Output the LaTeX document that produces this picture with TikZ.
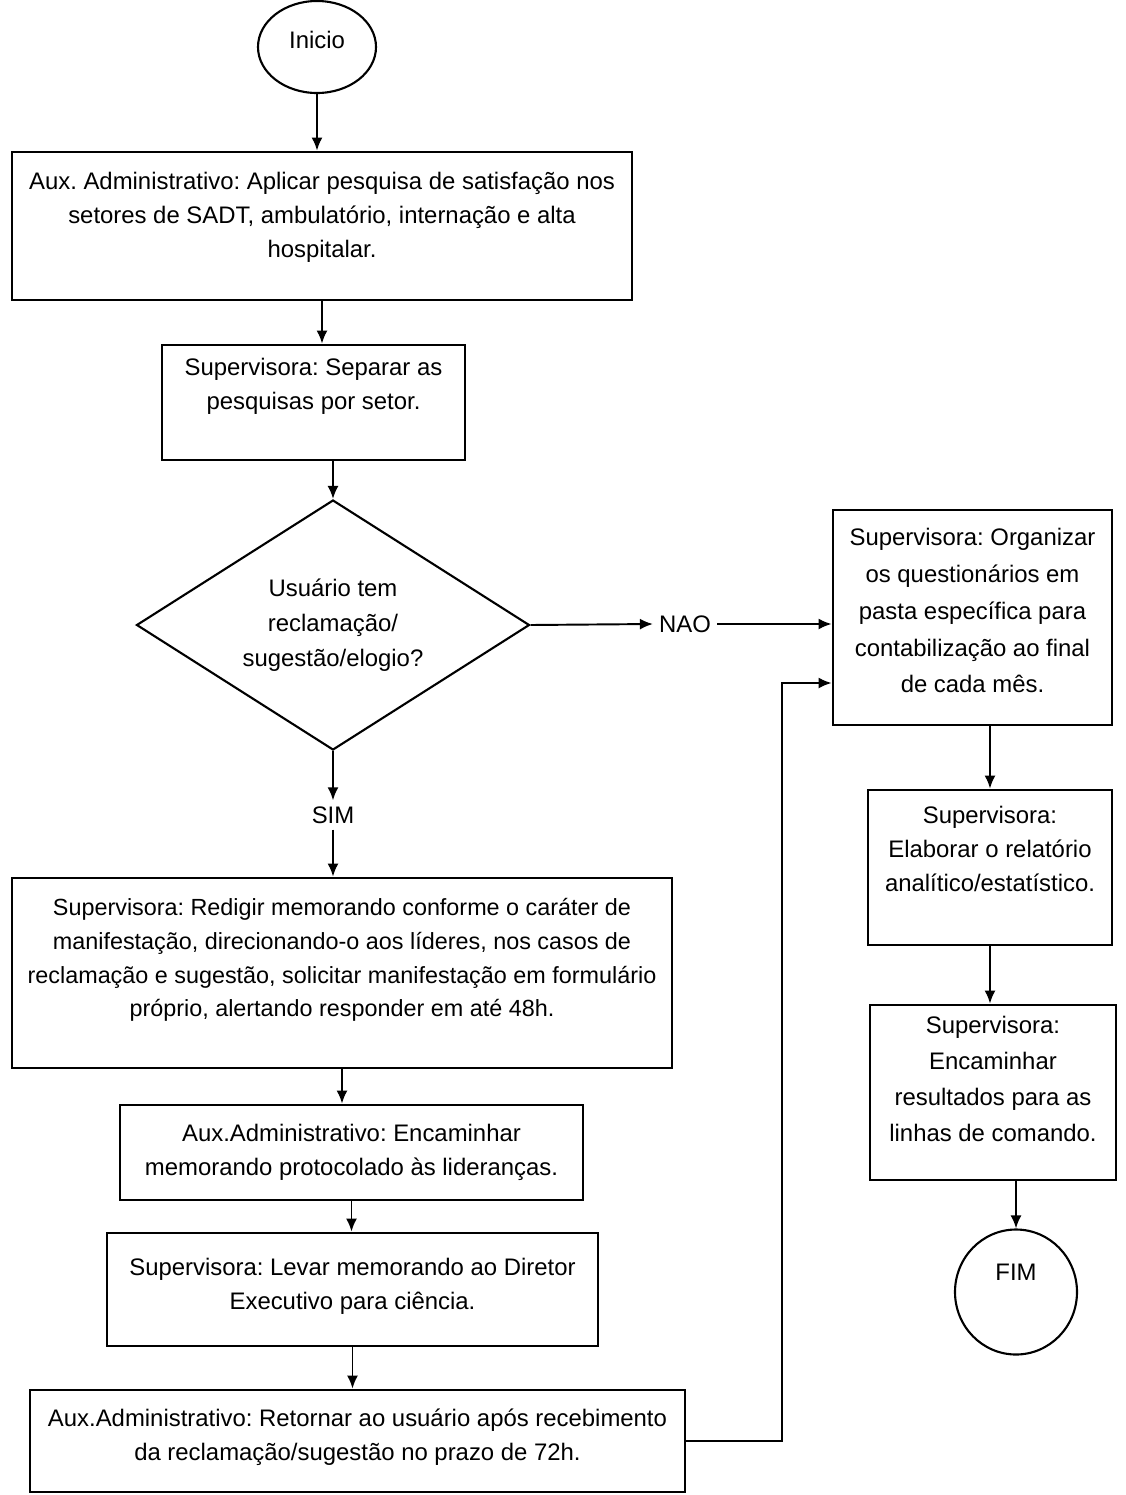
\documentclass[tikz,border=0pt]{standalone}
\usepackage{fontspec}
\setmainfont{Liberation Sans}
\usetikzlibrary{shapes.geometric}
\usetikzlibrary{arrows.meta}
\usetikzlibrary{positioning}
\frenchspacing

% box text: [top gap]{width}{height}{text}
\newcommand{\caixa}[4][0.35cm]{\parbox[c][#3][t]{#2}{\centering\vspace*{#1}#4}}

\begin{document}
\begin{tikzpicture}[every path/.style={>={Latex[length=2.6mm,width=2.2mm]}},
	passo/.style={draw,rectangle,line width=1.6pt,inner sep=0pt,font=\fontsize{13.6}{19.5}\selectfont},
	terminal/.style={draw,ellipse,line width=1.2pt,inner sep=0pt,font=\fontsize{13.6}{17}\selectfont},
	fluxo/.style={->,line width=1.1pt}]
			\useasboundingbox (0,0) rectangle (22.52,-29.9);

			% draw nodes (left column)
			\node (inicio) at (6.34,-0.94) [terminal,minimum width=2.36cm,minimum height=1.84cm,text depth=0.3cm] {Inicio};
			\node (aplicar) at (6.44,-4.52) [passo] {\caixa[0.4cm]{12.4cm}{2.96cm}{Aux. Administrativo: Aplicar pesquisa de satisfação nos\\setores de SADT, ambulatório, internação e alta\\hospitalar.}};
			\node (separar) at (6.27,-8.05) [passo] {\caixa[0.26cm]{6.06cm}{2.3cm}{Supervisora: Separar as\\pesquisas por setor.}};
			\node (decisao) at (6.66,-12.5) [draw,diamond,aspect=1.57,line width=1.2pt,inner sep=0pt,minimum width=7.86cm,minimum height=5cm,align=center,font=\fontsize{13.6}{20}\selectfont] {Usuário tem\\reclamação/\\sugestão/elogio?};
			\node (nao) at (13.7,-12.48) [font=\fontsize{13.6}{17}\selectfont] {NAO};
			\node (sim) at (6.66,-16.3) [font=\fontsize{13.6}{17}\selectfont] {SIM};
			\node (redigir) at (6.84,-19.46) [passo] {\caixa[0.4cm]{13.2cm}{3.8cm}{\fontsize{13.3}{19.3}\selectfont Supervisora: Redigir memorando conforme o caráter de\\manifestação, direcionando-o aos líderes, nos casos de\\reclamação e sugestão, solicitar manifestação em formulário\\próprio, alertando responder em até 48h.}};
			\node (encaminhar) at (7.03,-23.05) [passo] {\caixa[0.38cm]{9.26cm}{1.9cm}{Aux.Administrativo: Encaminhar\\memorando protocolado às lideranças.}};
			\node (levar) at (7.05,-25.79) [passo] {\caixa[0.5cm]{9.82cm}{2.26cm}{Supervisora: Levar memorando ao Diretor\\Executivo para ciência.}};
			\node (retornar) at (7.15,-28.82) [passo] {\caixa[0.38cm]{13.1cm}{2.04cm}{Aux.Administrativo: Retornar ao usuário após recebimento\\da reclamação/sugestão no prazo de 72h.}};

			% draw nodes (right column)
			\node (organizar) at (19.45,-12.35) [passo] {\caixa[0.36cm]{5.58cm}{4.3cm}{\fontsize{13.6}{21}\selectfont Supervisora: Organizar\\os questionários em\\pasta específica para\\contabilização ao final\\de cada mês.}};
			\node (relatorio) at (19.8,-17.35) [passo] {\caixa[0.32cm]{4.88cm}{3.1cm}{Supervisora:\\Elaborar o relatório\\analítico/estatístico.}};
			\node (resultados) at (19.86,-21.85) [passo] {\caixa[0.22cm]{4.92cm}{3.5cm}{\fontsize{13.6}{20.5}\selectfont Supervisora:\\Encaminhar\\resultados para as\\linhas de comando.}};
			\node (fim) at (20.32,-25.84) [terminal,minimum width=2.44cm,minimum height=2.5cm,text depth=0.8cm] {FIM};
			\coordinate (volta) at (15.64,-13.66);

			% draw arrows
			\draw[fluxo] (inicio) -- (inicio |- aplicar.north);
			\draw[fluxo] (aplicar) -- (aplicar |- separar.north);
			\draw[fluxo] (decisao |- separar.south) -- (decisao.north);
			\draw[fluxo] (decisao.east) -- (nao.west);
			\draw[fluxo] (nao.east) -- (nao.east -| organizar.west);
			\draw[fluxo] (decisao.south) -- (sim.north);
			\draw[fluxo] (sim.south) -- (sim |- redigir.north);
			\draw[fluxo] (redigir) -- (redigir |- encaminhar.north);
			\draw[fluxo] (encaminhar) -- (encaminhar |- levar.north);
			\draw[fluxo] (levar) -- (levar |- retornar.north);
			\draw[fluxo] (retornar.east) -| (volta) -- (volta -| organizar.west);
			\draw[fluxo] (relatorio |- organizar.south) -- (relatorio.north);
			\draw[fluxo] (relatorio) -- (relatorio |- resultados.north);
			\draw[fluxo] (fim |- resultados.south) -- (fim.north);
		\end{tikzpicture}
\end{document}
